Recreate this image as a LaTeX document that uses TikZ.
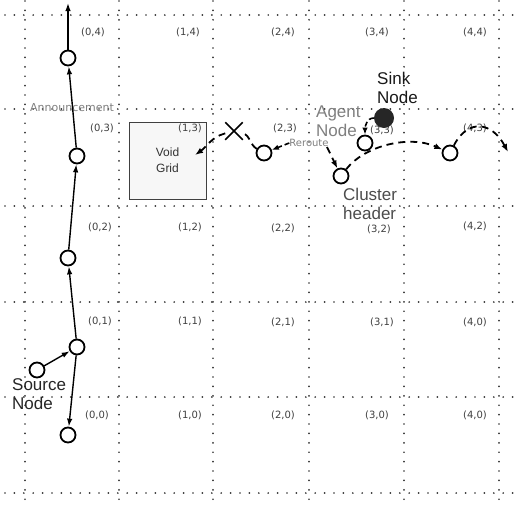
\documentclass[tikz,border=0pt]{standalone}
\usepackage{fontspec}
\setmainfont{Liberation Sans}
\newfontfamily\dejavu{DejaVu Sans}
\usetikzlibrary{arrows.meta,shapes.misc}
\begin{document}
\begin{tikzpicture}[x=1pt,y=-1pt,
  gridline/.style={line width=1.9pt, line cap=round, dash pattern=on 0pt off 9.4pt, black!80},
  celllabel/.style={font=\dejavu\fontsize{10}{11}\selectfont, text=black!75, inner sep=0pt},
  sensor/.style={circle, draw, line width=1.8pt, minimum size=15pt, inner sep=0pt, fill=white},
  sinknode/.style={circle, fill=black!85, minimum size=20pt, inner sep=0pt},
  solidarrow/.style={line width=1.4pt, -{Latex[length=8pt,width=5.5pt]}},
  dasharrow/.style={line width=1.8pt, dash pattern=on 7pt off 5pt, -{Latex[length=8pt,width=6pt]}},
  shortdash/.style={line width=1.6pt, dash pattern=on 5pt off 3pt, -{Latex[length=7pt,width=5.5pt]}},
  dashline/.style={line width=1.8pt, dash pattern=on 7pt off 5pt},
  biglabel/.style={font=\fontsize{17}{18.5}\selectfont, align=left, inner sep=0pt, anchor=west},
  smallgray/.style={font=\dejavu\fontsize{11}{12}\selectfont, text=black!50, inner sep=0pt},
  voidbox/.style={draw=black!75, line width=1pt, fill=black!3, minimum width=77pt, minimum height=77pt, inner sep=0pt, align=center, font=\fontsize{12}{16}\selectfont, text=black!80},
  crossmark/.style={cross out, draw, line width=1.5pt, minimum size=16pt, inner sep=0pt}
  ]
\useasboundingbox (0,0) rectangle (516,504);
\fill[white] (0,0) rectangle (516,504);
% grid
\foreach \gx in {25,119,213,309,404,499} \draw[gridline] (\gx,1) -- (\gx,504);
\foreach \gy in {15,109,206,302,397,493} \draw[gridline] (5,\gy) -- (516,\gy);
% void grid
\node[voidbox] (void) at (167.5,160.5) {Void\\Grid};
% cell labels
\node[celllabel] (c04) at (93,32) {(0,4)};
\node[celllabel] (c14) at (188,32) {(1,4)};
\node[celllabel] (c24) at (283,32) {(2,4)};
\node[celllabel] (c34) at (377,32) {(3,4)};
\node[celllabel] (c44) at (475,32) {(4,4)};
\node[celllabel] (c03) at (102,128) {(0,3)};
\node[celllabel] (c13) at (190,128) {(1,3)};
\node[celllabel] (c23) at (285,128) {(2,3)};
\node[celllabel] (c33) at (382,130) {(3,3)};
\node[celllabel] (c43) at (475,128) {(4,3)};
\node[celllabel] (c02) at (100,227) {(0,2)};
\node[celllabel] (c12) at (190,227) {(1,2)};
\node[celllabel] (c22) at (283,228) {(2,2)};
\node[celllabel] (c32) at (379,229) {(3,2)};
\node[celllabel] (c42) at (475,226) {(4,2)};
\node[celllabel] (c01) at (100,321) {(0,1)};
\node[celllabel] (c11) at (190,321) {(1,1)};
\node[celllabel] (c21) at (283,322) {(2,1)};
\node[celllabel] (c31) at (382,322) {(3,1)};
\node[celllabel] (c41) at (475,322) {(4,0)};
\node[celllabel] (c00) at (97,415) {(0,0)};
\node[celllabel] (c10) at (190,415) {(1,0)};
\node[celllabel] (c20) at (283,415) {(2,0)};
\node[celllabel] (c30) at (377,415) {(3,0)};
\node[celllabel] (c40) at (475,415) {(4,0)};
% text labels
\node[biglabel, text=black!50] (agentlbl) at (316,121) {Agent\\Node};
\node[biglabel, text=black!70] (clusterlbl) at (343,204) {Cluster\\header};
\node[biglabel, text=black!90] (sinklbl) at (377,88) {Sink\\Node};
\node[biglabel, text=black!85] (sourcelbl) at (12,394) {Source\\Node};
% sensor nodes
\node[sensor] (n1) at (68,58) {};
\node[sensor] (n2) at (77,156) {};
\node[sensor] (n3) at (68,258) {};
\node[sensor] (n4) at (77,347) {};
\node[sensor] (src) at (37,370) {};
\node[sensor] (n5) at (68,435) {};
\node[sensor] (n6) at (264,153) {};
\node[sensor] (ch) at (341,176) {};
\node[sensor] (ag) at (365,143) {};
\node[sensor] (n9) at (450,153) {};
\node[sinknode] (sink) at (384,118) {};
\node[crossmark] (x) at (234,131) {};
\node[smallgray] (ann) at (72,108) {Announcement};
\node[smallgray, font=\dejavu\fontsize{10}{11}\selectfont] (rr) at (309,143) {Reroute};
\coordinate (top) at (68,3);
\coordinate (vt) at (195,155);
\coordinate (rrend) at (327,147);
\coordinate (farend) at (508,152);
% announcement path
\draw[solidarrow] (src) -- (n4);
\draw[solidarrow] (n4) -- (n3);
\draw[solidarrow] (n3) -- (n2);
\draw[solidarrow] (n2) -- (n1);
\draw[solidarrow] (n1) -- (top);
\draw[solidarrow] (n4) -- (n5);
% reroute paths
\draw[dashline] (n6) to[out=150,in=-15] (x);
\draw[dasharrow] (x) to[out=195,in=35] (vt);
\draw[shortdash] (rr.west) -- (n6);
\draw[dasharrow] (rrend) -- (ch);
\draw[shortdash] (sink.west) to[out=180,in=90] (ag.north);
\draw[dasharrow] (ch) .. controls (365,145) and (410,135) .. (n9);
\draw[dasharrow] (n9) .. controls (468,118) and (492,122) .. (farend);
\end{tikzpicture}
\end{document}
